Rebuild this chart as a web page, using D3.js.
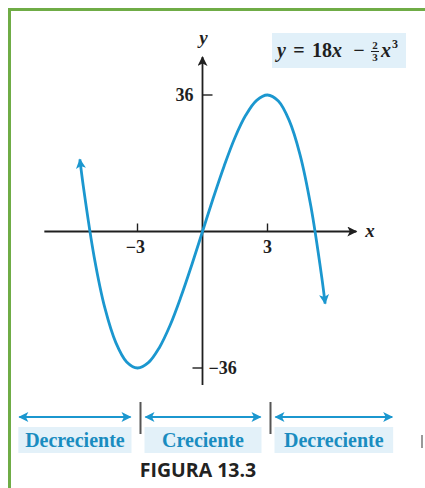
<!DOCTYPE html>
<html>
<head>
<meta charset="utf-8">
<script src="https://cdn.jsdelivr.net/npm/d3@7"></script>
<style>
  body { margin: 0; background: #fff; }
  svg { display: block; }
  .serif { font-family: "Liberation Serif", "DejaVu Serif", serif; font-weight: bold; }
</style>
</head>
<body>
<svg id="chart" width="425" height="488"></svg>
<script>
// puntos
var xs = [-5.66, -5.5, -5, -4.5, -4, -3.5, -3, -2.5, -2, -1.5, -1, -0.5, 0,
          0.5, 1, 1.5, 2, 2.5, 3, 3.5, 4, 4.5, 5, 5.5, 5.66];
var ys = [19.0, 11.9, -6.7, -20.3, -29.3, -34.4, -36, -34.6, -30.7, -24.8, -17.3, -8.9, 0,
          8.9, 17.3, 24.8, 30.7, 34.6, 36, 34.4, 29.3, 20.3, 6.7, -11.9, -19.0];
var xTicks = [-3, 3];
var yTicks = [36, -36];
var intervalLabels = ['Decreciente', 'Creciente', 'Decreciente'];
var intervalEdges = [-8.5, -3, 3, 8.8];

var svg = d3.select('#chart');
var curveColor = '#1b97cf';
var inkColor = '#1f1f1f';

var x = d3.scaleLinear().domain([-3, 3]).range([137.5, 267.5]);
var y = d3.scaleLinear().domain([-36, 36]).range([368, 95]);

// marco verde
svg.append('rect')
  .attr('x', 9.5).attr('y', 9.5)
  .attr('width', 520).attr('height', 520)
  .attr('fill', 'none')
  .attr('stroke', '#6fac46')
  .attr('stroke-width', 3);

var defs = svg.append('defs');
function marker(id, color, w, h) {
  defs.append('marker')
    .attr('id', id)
    .attr('viewBox', '0 0 10 10')
    .attr('refX', 9).attr('refY', 5)
    .attr('markerWidth', w).attr('markerHeight', h)
    .attr('markerUnits', 'userSpaceOnUse')
    .attr('orient', 'auto-start-reverse')
    .append('path')
    .attr('d', 'M0,0 L10,5 L0,10 L2.5,5 Z')
    .attr('fill', color);
}
marker('axisArrow', inkColor, 15, 10);
marker('curveArrow', curveColor, 14, 10);
marker('bandArrow', curveColor, 14, 10);

// ejes
var axes = svg.append('g').attr('class', 'axes');
axes.append('line')
  .attr('x1', x(-7.3)).attr('y1', y(0))
  .attr('x2', x(7.1)).attr('y2', y(0))
  .attr('stroke', inkColor).attr('stroke-width', 1.8)
  .attr('marker-end', 'url(#axisArrow)');
axes.append('line')
  .attr('x1', x(0)).attr('y1', y(-40.5))
  .attr('x2', x(0)).attr('y2', y(46))
  .attr('stroke', inkColor).attr('stroke-width', 1.8)
  .attr('marker-end', 'url(#axisArrow)');

axes.selectAll('.xtick')
  .data(xTicks)
  .enter()
  .append('line')
  .attr('class', 'xtick')
  .attr('x1', d => x(d)).attr('x2', d => x(d))
  .attr('y1', y(0)).attr('y2', y(0) - 8)
  .attr('stroke', inkColor).attr('stroke-width', 1.4);

axes.selectAll('.xlabel')
  .data(xTicks)
  .enter()
  .append('text')
  .attr('class', 'serif')
  .attr('x', d => x(d) - (d < 0 ? 2 : 0))
  .attr('y', y(0) + 21)
  .attr('text-anchor', 'middle')
  .attr('font-size', 18)
  .attr('fill', inkColor)
  .text(d => d < 0 ? '\u2212' + Math.abs(d) : d);

// marcas del eje y: la de 36 hacia la derecha, la de -36 hacia la izquierda
axes.selectAll('.ytick')
  .data(yTicks)
  .enter()
  .append('line')
  .attr('class', 'ytick')
  .attr('x1', x(0))
  .attr('x2', d => d > 0 ? x(0) + 10 : x(0) - 10)
  .attr('y1', d => y(d)).attr('y2', d => y(d))
  .attr('stroke', inkColor).attr('stroke-width', 1.4);

axes.selectAll('.ylabel')
  .data(yTicks)
  .enter()
  .append('text')
  .attr('class', 'serif')
  .attr('x', d => d > 0 ? x(0) - 9 : x(0) + 6)
  .attr('y', d => y(d) + 6)
  .attr('text-anchor', d => d > 0 ? 'end' : 'start')
  .attr('font-size', 18)
  .attr('fill', inkColor)
  .text(d => d < 0 ? '\u2212' + Math.abs(d) : d);

axes.append('text')
  .attr('class', 'serif')
  .attr('x', x(7.1) + 9).attr('y', y(0) + 5)
  .attr('font-size', 19).attr('font-style', 'italic')
  .attr('fill', inkColor)
  .text('x');
axes.append('text')
  .attr('class', 'serif')
  .attr('x', x(0) + 1).attr('y', 44)
  .attr('text-anchor', 'middle')
  .attr('font-size', 19).attr('font-style', 'italic')
  .attr('fill', inkColor)
  .text('y');

// curva
var pts = xs.map((d, i) => [d, ys[i]]);
var line = d3.line()
  .x(d => x(d[0]))
  .y(d => y(d[1]))
  .curve(d3.curveCatmullRom);

svg.append('path')
  .attr('d', line(pts))
  .attr('fill', 'none')
  .attr('stroke', curveColor)
  .attr('stroke-width', 2.8)
  .attr('marker-start', 'url(#curveArrow)')
  .attr('marker-end', 'url(#curveArrow)');

// ecuacion
var eq = svg.append('g').attr('class', 'equation');
eq.append('rect')
  .attr('x', 272).attr('y', 33)
  .attr('width', 134).attr('height', 35)
  .attr('fill', '#e1f0f9');

function eqPiece(px, txt, size, italic, anchor, py) {
  eq.append('text')
    .attr('class', 'serif')
    .attr('x', px).attr('y', py || 57)
    .attr('text-anchor', anchor || 'start')
    .attr('font-size', size)
    .attr('font-style', italic ? 'italic' : 'normal')
    .attr('fill', inkColor)
    .text(txt);
}
eqPiece(277, 'y', 20, true);
eqPiece(299, '=', 20, false, 'middle');
eqPiece(312, '18', 20, false);
eqPiece(332, 'x', 20, true);
eqPiece(359, '\u2212', 20, false, 'middle');
eqPiece(375, '2', 11, false, 'middle', 48.5);
eqPiece(375, '3', 11, false, 'middle', 61);
eq.append('line')
  .attr('x1', 371).attr('x2', 379)
  .attr('y1', 51.5).attr('y2', 51.5)
  .attr('stroke', inkColor).attr('stroke-width', 1);
eqPiece(381, 'x', 20, true);
eqPiece(392, '3', 12, false, 'start', 48);

// intervalos
var bands = svg.append('g').attr('class', 'intervals');
var bandData = intervalLabels.map((d, i) => ({
  label: d,
  x0: x(intervalEdges[i]) + (i === 0 ? 0 : 7),
  x1: x(intervalEdges[i + 1]) - (i === 2 ? 0 : 6)
}));

bands.selectAll('rect')
  .data(bandData)
  .enter()
  .append('rect')
  .attr('x', d => d.x0)
  .attr('y', 427)
  .attr('width', d => d.x1 - d.x0)
  .attr('height', 26)
  .attr('fill', '#e3f1f9');

bands.selectAll('line.band')
  .data(bandData)
  .enter()
  .append('line')
  .attr('class', 'band')
  .attr('x1', d => d.x0 + 1).attr('x2', d => d.x1 - 1)
  .attr('y1', 417).attr('y2', 417)
  .attr('stroke', curveColor).attr('stroke-width', 2.2)
  .attr('marker-start', 'url(#bandArrow)')
  .attr('marker-end', 'url(#bandArrow)');

bands.selectAll('text')
  .data(bandData)
  .enter()
  .append('text')
  .attr('class', 'serif')
  .attr('x', d => (d.x0 + d.x1) / 2)
  .attr('y', 447)
  .attr('text-anchor', 'middle')
  .attr('font-size', 20)
  .attr('fill', '#1a8cc0')
  .text(d => d.label);

bands.selectAll('line.sep')
  .data(xTicks)
  .enter()
  .append('line')
  .attr('class', 'sep')
  .attr('x1', d => x(d) + 3).attr('x2', d => x(d) + 3)
  .attr('y1', 402).attr('y2', 434)
  .attr('stroke', '#555').attr('stroke-width', 2);

svg.append('line')
  .attr('x1', 422).attr('x2', 422)
  .attr('y1', 435).attr('y2', 448)
  .attr('stroke', '#999').attr('stroke-width', 2);

svg.append('text')
  .attr('x', 198).attr('y', 477)
  .attr('text-anchor', 'middle')
  .attr('font-family', '"Open Sans", "Noto Sans", sans-serif')
  .attr('font-weight', 'bold')
  .attr('font-size', 19.5)
  .attr('fill', '#222')
  .text('FIGURA 13.3');
</script>
</body>
</html>
